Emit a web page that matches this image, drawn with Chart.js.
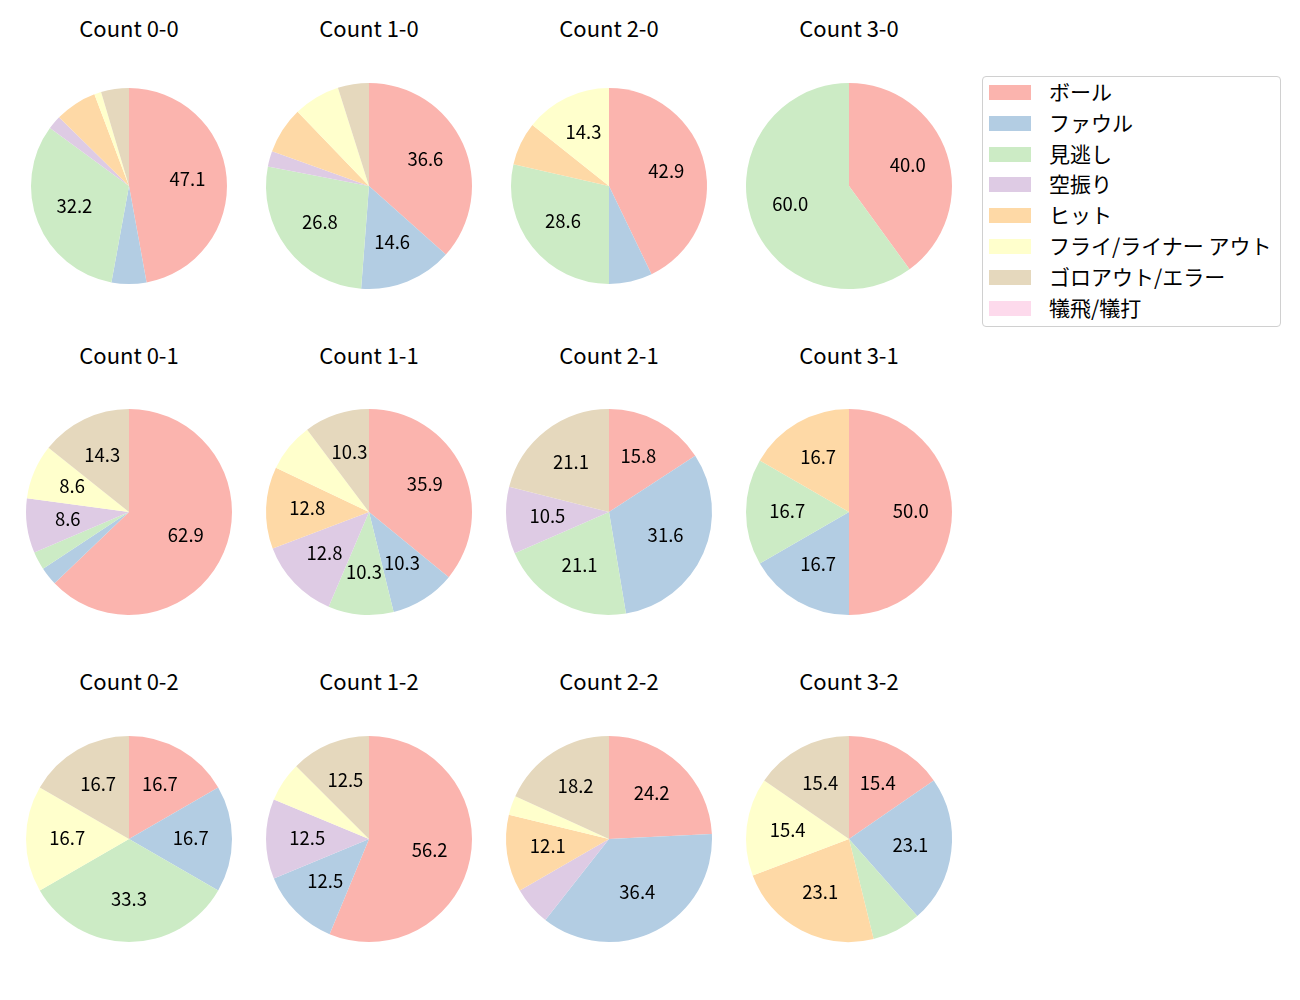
<!DOCTYPE html>
<html>
<head>
<meta charset="utf-8">
<script src="https://cdn.jsdelivr.net/npm/chart.js@4"></script>
<style>
  body { margin: 0; background: #fff; font-family: "Noto Sans CJK JP", "Noto Sans", sans-serif; color: #000; }
  #page { position: relative; width: 1300px; height: 1000px; }
  .pie { position: absolute; }
  .title { position: absolute; font-size: 22px; line-height: 1; transform: translate(-50%, -50%); white-space: nowrap; }
  #legend { position: absolute; left: 982px; top: 76px; width: 297px; height: 249px; border: 1px solid #d0d0d0; border-radius: 4px; }
  .item { position: absolute; left: 0; height: 20px; line-height: 20px; font-size: 21px; white-space: nowrap; }
  .item span.box { position: absolute; left: 6px; top: 2px; width: 42px; height: 15px; }
  .item span.txt { position: absolute; left: 66px; top: -2px; }
</style>
</head>
<body>
<div id="page">
  <div id="legend"></div>
</div>
<script>
document.addEventListener('DOMContentLoaded', function() {
    const categories = ['ボール', 'ファウル', '見逃し', '空振り', 'ヒット', 'フライ/ライナー アウト', 'ゴロアウト/エラー', '犠飛/犠打'];
    const colors = ['#fbb4ae', '#b3cde3', '#ccebc5', '#decbe4', '#fed9a6', '#ffffcc', '#e5d8bd', '#fddaec'];

    // counts per pitch result, in category order
    const count00 = [41, 5, 28, 2, 6, 1, 4, 0];
    const count10 = [15, 6, 11, 1, 3, 3, 2, 0];
    const count20 = [6, 1, 4, 0, 1, 2, 0, 0];
    const count30 = [2, 0, 3, 0, 0, 0, 0, 0];
    const count01 = [22, 1, 1, 3, 0, 3, 5, 0];
    const count11 = [14, 4, 4, 5, 5, 3, 4, 0];
    const count21 = [3, 6, 4, 2, 0, 0, 4, 0];
    const count31 = [3, 1, 1, 0, 1, 0, 0, 0];
    const count02 = [1, 1, 2, 0, 0, 1, 1, 0];
    const count12 = [9, 2, 0, 2, 0, 1, 2, 0];
    const count22 = [8, 12, 0, 2, 4, 1, 6, 0];
    const count32 = [2, 3, 1, 0, 3, 2, 2, 0];

    const titles = ['Count 0-0', 'Count 1-0', 'Count 2-0', 'Count 3-0',
                    'Count 0-1', 'Count 1-1', 'Count 2-1', 'Count 3-1',
                    'Count 0-2', 'Count 1-2', 'Count 2-2', 'Count 3-2'];
    const series = [count00, count10, count20, count30,
                    count01, count11, count21, count31,
                    count02, count12, count22, count32];

    const colX = [129, 369, 609, 849];
    const rowY = [186, 512, 839];
    const titleY = [27, 354, 680];
    const radii = [98, 103, 98, 103, 103, 103, 103, 103, 103, 103, 103, 103];
    const minPct = 8;

    const page = document.getElementById('page');

    // round half to even, like python's %.1f
    function fmt(p) {
        var v = p * 10;
        var f = Math.floor(v);
        var d = v - f;
        if (Math.abs(d - 0.5) < 1e-9) v = (f % 2 === 0) ? f : f + 1;
        else v = Math.round(v);
        return (v / 10).toFixed(1);
    }

    const pctLabels = {
        id: 'pctLabels',
        afterDatasetsDraw(chart) {
            const ctx = chart.ctx;
            const data = chart.data.datasets[0].data;
            const total = data.reduce((a, b) => a + b, 0);
            ctx.save();
            ctx.font = '18.5px "Noto Sans CJK JP", "Noto Sans", sans-serif';
            ctx.fillStyle = '#000';
            ctx.textAlign = 'center';
            ctx.textBaseline = 'middle';
            chart.getDatasetMeta(0).data.forEach(function(arc, i) {
                const pct = data[i] / total * 100;
                if (pct < minPct) return;
                const p = arc.getProps(['x', 'y', 'startAngle', 'endAngle', 'outerRadius'], true);
                const mid = (p.startAngle + p.endAngle) / 2;
                const r = p.outerRadius * 0.6;
                ctx.fillText(fmt(pct), p.x + Math.cos(mid) * r, p.y + Math.sin(mid) * r - 1.5);
            });
            ctx.restore();
        }
    };

    series.forEach(function(values, k) {
        const cx = colX[k % 4], cy = rowY[Math.floor(k / 4)];
        const canvas = document.createElement('canvas');
        canvas.className = 'pie';
        canvas.width = 240; canvas.height = 240;
        canvas.style.left = (cx - 120) + 'px';
        canvas.style.top = (cy - 120) + 'px';
        canvas.style.width = '240px'; canvas.style.height = '240px';
        page.appendChild(canvas);

        const t = document.createElement('div');
        t.className = 'title';
        t.textContent = titles[k];
        t.style.left = cx + 'px';
        t.style.top = titleY[Math.floor(k / 4)] + 'px';
        page.appendChild(t);

        new Chart(canvas, {
            type: 'pie',
            data: {
                labels: categories,
                datasets: [{
                    data: values,
                    backgroundColor: colors,
                    borderWidth: 0,
                    radius: radii[k]
                }]
            },
            options: {
                responsive: false,
                animation: false,
                layout: { padding: 0 },
                plugins: { legend: { display: false }, tooltip: { enabled: false } }
            },
            plugins: [pctLabels]
        });
    });

    // legend
    const legend = document.getElementById('legend');
    categories.forEach(function(name, i) {
        const item = document.createElement('div');
        item.className = 'item';
        item.style.top = (6 + i * 30.8) + 'px';
        item.innerHTML = '<span class="box" style="background:' + colors[i] + '"></span><span class="txt"></span>';
        item.querySelector('.txt').textContent = name;
        legend.appendChild(item);
    });
});
</script>
</body>
</html>
